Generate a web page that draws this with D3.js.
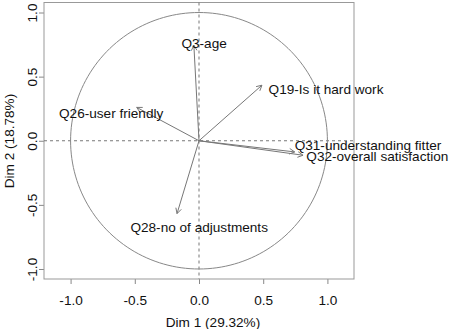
<!DOCTYPE html>
<html>
<head>
<meta charset="utf-8">
<script src="https://cdn.jsdelivr.net/npm/d3@7"></script>
<style>
  body { margin: 0; background: #fff; }
  text { font-family: "Liberation Sans", Arial, sans-serif; }
</style>
</head>
<body>
<script>
// variables and their coordinates on the first two dimensions
var names = ["Q3-age", "Q19-Is it hard work", "Q26-user friendly",
  "Q31-understanding fitter", "Q32-overall satisfaction", "Q28-no of adjustments"];
var dim1 = [-0.04, 0.49, -0.485, 0.745, 0.81, -0.171];
var dim2 = [0.745, 0.433, 0.26, -0.087, -0.113, -0.568];
// where each label sits (data units: left edge, vertical centre)
var labelX = [-0.137, 0.542, -1.09, 0.745, 0.836, -0.534];
var labelY = [0.758, 0.402, 0.215, -0.035, -0.121, -0.672];

var tickValues = [-1, -0.5, 0, 0.5, 1];
var xTitle = "Dim 1 (29.32%)";
var yTitle = "Dim 2 (18.78%)";

var width = 450,
  height = 329;
var margin = {
  top: 2.5,
  bottom: 50,
  left: 44,
  right: 96
};
var fs = 13.6;

var svg = d3.select('body')
  .append('svg')
  .attr('width', width)
  .attr('height', height);

var xScale = d3.scaleLinear()
  .domain([-1.207, 1.207])
  .range([margin.left, width - margin.right]);

var yScale = d3.scaleLinear()
  .domain([-1.078, 1.078])
  .range([height - margin.bottom, margin.top]);

var fmt = function(d) { return d3.format(".1f")(d).replace("\u2212", "-"); };

//Axes
var xAxis = svg.append('g')
  .attr("transform", `translate(0,${height - margin.bottom})`)
  .call(d3.axisBottom(xScale).tickValues(tickValues).tickFormat(fmt).tickSize(5).tickPadding(11.5));
xAxis.select('.domain').remove();
xAxis.selectAll('line').attr('stroke', '#888');
xAxis.selectAll('text').attr('font-size', fs).attr('fill', '#111')
  .attr('font-family', '"Liberation Sans", Arial, sans-serif');

var yAxis = svg.append('g')
  .attr("transform", `translate(${margin.left},0)`)
  .call(d3.axisLeft(yScale).tickValues(tickValues).tickFormat(fmt).tickSize(5));
yAxis.select('.domain').remove();
yAxis.selectAll('line').attr('stroke', '#888');
yAxis.selectAll('text')
  .attr('font-size', fs).attr('fill', '#111')
  .attr('font-family', '"Liberation Sans", Arial, sans-serif')
  .attr('x', 0).attr('dy', 0)
  .attr('text-anchor', 'middle')
  .attr('transform', 'translate(-7.4,0) rotate(-90)');

//Box
svg.append('rect')
  .attr('x', margin.left)
  .attr('y', margin.top)
  .attr('width', width - margin.right - margin.left)
  .attr('height', height - margin.bottom - margin.top)
  .attr('fill', 'none')
  .attr('stroke', '#999');

//Titles
svg.append('text')
  .attr('x', 213)
  .attr('y', 326.5)
  .attr('text-anchor', 'middle')
  .attr('font-size', fs)
  .attr('fill', '#111')
  .text(xTitle);

svg.append('text')
  .attr('transform', 'translate(14,141) rotate(-90)')
  .attr('text-anchor', 'middle')
  .attr('font-size', fs)
  .attr('fill', '#111')
  .text(yTitle);

//Reference lines
svg.append('line')
  .attr('x1', xScale(0)).attr('x2', xScale(0))
  .attr('y1', margin.top).attr('y2', height - margin.bottom)
  .attr('stroke', '#777').attr('stroke-dasharray', '3,3');
svg.append('line')
  .attr('x1', margin.left).attr('x2', width - margin.right)
  .attr('y1', yScale(0)).attr('y2', yScale(0))
  .attr('stroke', '#777').attr('stroke-dasharray', '3,3');

//Unit circle
var circle = d3.range(0, 361, 2).map(function(a) {
  var r = a * Math.PI / 180;
  return [Math.cos(r), Math.sin(r)];
});
svg.append('path')
  .datum(circle)
  .attr('d', d3.line().x(function(d) { return xScale(d[0]); }).y(function(d) { return yScale(d[1]); }))
  .attr('fill', 'none')
  .attr('stroke', '#888');

//Arrows
var data = names.map(function(n, i) {
  return { name: n, x: dim1[i], y: dim2[i], lx: labelX[i], ly: labelY[i] };
});

var headLen = 6, headAng = 28 * Math.PI / 180;
svg.selectAll('.arrow')
  .data(data)
  .enter()
  .append('path')
  .attr('class', 'arrow')
  .attr('fill', 'none')
  .attr('stroke', '#777')
  .attr('d', function(d) {
    var x0 = xScale(0), y0 = yScale(0), x1 = xScale(d.x), y1 = yScale(d.y);
    var a = Math.atan2(y1 - y0, x1 - x0);
    var p = d3.path();
    p.moveTo(x0, y0); p.lineTo(x1, y1);
    p.moveTo(x1 - headLen * Math.cos(a - headAng), y1 - headLen * Math.sin(a - headAng));
    p.lineTo(x1, y1);
    p.lineTo(x1 - headLen * Math.cos(a + headAng), y1 - headLen * Math.sin(a + headAng));
    return p.toString();
  });

svg.selectAll('.lab')
  .data(data)
  .enter()
  .append('text')
  .attr('class', 'lab')
  .attr('x', function(d) { return xScale(d.lx); })
  .attr('y', function(d) { return yScale(d.ly) + 4.9; })
  .attr('font-size', fs)
  .attr('fill', '#111')
  .text(function(d) { return d.name; });
</script>
</body>
</html>
